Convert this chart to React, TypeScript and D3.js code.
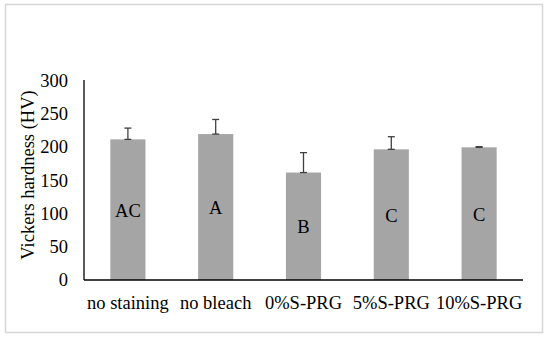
import React, { useRef, useEffect } from 'react';
import * as d3 from 'd3';

// Data
const categories = ['no staining', 'no bleach', '0%S-PRG', '5%S-PRG', '10%S-PRG'];
const hardness = [212, 220, 162, 197, 200];
const errors = [17, 22, 30, 19, 1];
const groups = ['AC', 'A', 'B', 'C', 'C'];
const yTicks = [0, 50, 100, 150, 200, 250, 300];

const App = () => {
  const chartRef = useRef<SVGSVGElement | null>(null);

  useEffect(() => {
    const width = 550;
    const height = 338;
    const left = 84;
    const right = 523;
    const top = 81;
    const bottom = 280;
    const font = "'Liberation Serif', 'Times New Roman', serif";

    const svg = d3.select(chartRef.current);
    svg.selectAll('*').remove();
    svg.attr('width', width).attr('height', height)
      .attr('font-family', font)
      .attr('font-size', 18.5);

    // Outer frame
    svg.append('rect')
      .attr('x', 5.5).attr('y', 4.5)
      .attr('width', 537).attr('height', 328)
      .attr('fill', '#fff')
      .attr('stroke', '#d6d6d6')
      .attr('stroke-width', 1.5);

    const x = d3.scaleBand()
      .domain(categories)
      .range([left, right])
      .paddingInner(0.6)
      .paddingOuter(0.3);

    const y = d3.scaleLinear().domain([0, 300]).range([bottom, top]);

    const data = categories.map((c, i) => ({
      cat: c, v: hardness[i], e: errors[i], g: groups[i],
    }));

    // Bars
    svg.append('g').selectAll('rect')
      .data(data)
      .enter().append('rect')
      .attr('x', d => x(d.cat)!)
      .attr('y', d => y(d.v))
      .attr('width', x.bandwidth())
      .attr('height', d => y(0) - y(d.v))
      .attr('fill', '#a5a5a5');

    // Error bars (upper only, with a cap at both ends)
    const eb = svg.append('g')
      .attr('stroke', '#404040')
      .attr('stroke-width', 1.3);
    data.forEach(d => {
      const cx = x(d.cat)! + x.bandwidth() / 2;
      eb.append('line')
        .attr('x1', cx).attr('x2', cx)
        .attr('y1', y(d.v)).attr('y2', y(d.v + d.e));
      eb.append('line')
        .attr('x1', cx - 3.5).attr('x2', cx + 3.5)
        .attr('y1', y(d.v + d.e)).attr('y2', y(d.v + d.e));
      eb.append('line')
        .attr('x1', cx - 3.5).attr('x2', cx + 3.5)
        .attr('y1', y(d.v)).attr('y2', y(d.v));
    });

    // Group letters
    svg.append('g').selectAll('text')
      .data(data)
      .enter().append('text')
      .attr('x', d => x(d.cat)! + x.bandwidth() / 2)
      .attr('y', d => y(d.v / 2) + 7)
      .attr('text-anchor', 'middle')
      .attr('fill', '#000')
      .text(d => d.g);

    // Axes lines
    svg.append('line')
      .attr('x1', left).attr('x2', left)
      .attr('y1', top - 1).attr('y2', bottom)
      .attr('stroke', '#000').attr('stroke-width', 1.3);
    svg.append('line')
      .attr('x1', left).attr('x2', right)
      .attr('y1', bottom).attr('y2', bottom)
      .attr('stroke', '#000').attr('stroke-width', 1.3);

    // Y tick labels
    svg.append('g').selectAll('text')
      .data(yTicks)
      .enter().append('text')
      .attr('x', 68)
      .attr('y', d => y(d) + 6)
      .attr('text-anchor', 'end')
      .text(d => d);

    // X labels
    svg.append('g').selectAll('text')
      .data(categories)
      .enter().append('text')
      .attr('x', d => x(d)! + x.bandwidth() / 2)
      .attr('y', 309)
      .attr('text-anchor', 'middle')
      .text(d => d);

    // Y title
    svg.append('text')
      .attr('transform', `translate(34, 175) rotate(-90)`)
      .attr('text-anchor', 'middle')
      .text('Vickers hardness (HV)');
  }, []);

  return (
    <div style={{ position: 'absolute', left: 0, top: 0 }}>
      <svg ref={chartRef} style={{ display: 'block' }}></svg>
    </div>
  );
};

export default App;
